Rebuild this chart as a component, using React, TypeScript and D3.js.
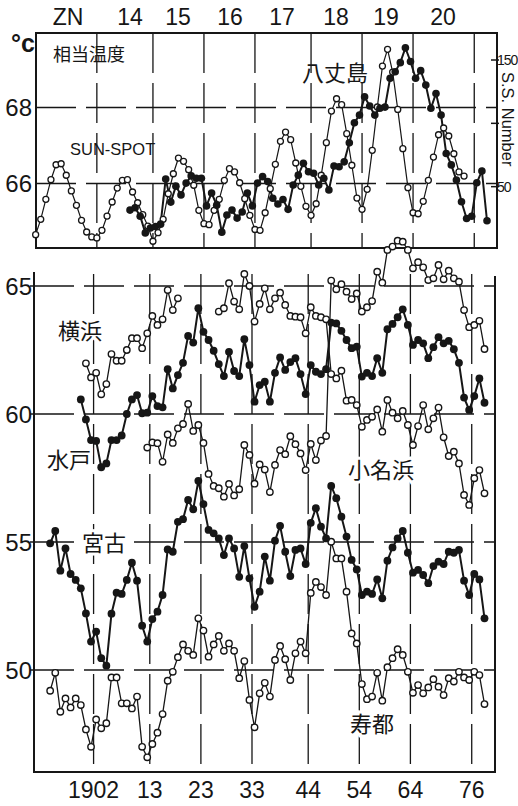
import React from "react";
import * as d3 from "d3";

// ---------- TOP PANEL DATA ----------
const SUNSPOT_START = 1890;
const SUNSPOT = [
  12.1, 24.2, 40.0, 55.5, 67.3, 68.1, 59.0, 46.6, 35.3, 23.4,
  14.2, 10.3, 9.5, 15.5, 26.8, 37.9, 48.9, 55.0, 55.5, 45.8,
  37.3, 27.9, 18.9, 6.9, 13.7, 24.2, 44.4, 60.2, 72.6, 70.0,
  63.4, 51.1, 31.3, 20.8, 20.0, 31.3, 40.0, 55.0, 64.2, 61.6,
  53.1, 40.5, 27.4, 16.2, 15.5, 29.4, 48.4, 67.6, 85.8, 93.1,
  87.1, 68.7, 50.3, 34.5, 27.4, 36.5, 59.0, 84.7, 109.7, 119.4,
  114.7, 91.8, 66.9, 41.0, 32.1, 47.9, 78.7, 112.9, 145.2, 158.4,
  140.5, 111.0, 80.0, 49.2, 29.4, 28.6, 38.4, 55.0, 73.4, 91.0,
  96.3, 90.0, 76.0, 61.6, 58.4,
];

const HACHIJO_START = 1908;
const HACHIJO = [
  65.30, 65.36, 65.14, 64.70, 64.83, 64.87, 64.93, 66.12, 65.51, 65.93,
  65.70, 66.01, 66.20, 66.14, 66.14, 65.41, 65.75, 65.43, 64.72, 65.17,
  65.30, 65.09, 65.25, 65.75, 65.41, 66.01, 66.18, 66.05, 65.61, 65.46,
  65.58, 65.32, 65.96, 66.22, 66.53, 66.31, 66.27, 65.96, 66.14, 65.83,
  66.46, 66.44, 66.57, 67.07, 67.60, 67.80, 68.28, 68.04, 67.80, 67.98,
  68.01, 68.77, 68.94, 69.18, 69.57, 69.21, 68.77, 68.97, 68.59, 67.98,
  68.37, 67.80, 66.79, 66.49, 66.09, 65.52, 65.08, 65.14, 66.02, 66.33, 65.02,
];

// sunspot-cycle minimum epochs (grid) and labels
const MIN_EPOCHS = [1901.5, 1912.5, 1922.5, 1932.5, 1943.5, 1953.5, 1963.5, 1975.5];
const MIN_LABELS = ["1902", "13", "23", "33", "44", "54", "64", "76"];
const CYCLE_YEARS = [1908, 1917.4, 1927.6, 1937.8, 1948.4, 1958.2, 1969.4];
const CYCLE_LABELS = ["14", "15", "16", "17", "18", "19", "20"];
const TOP_TICKS = [68, 66];
const SS_TICKS = [50, 100, 150];
const SS_LABELS = [150, 50];

// ---------- BOTTOM PANEL DATA ----------
const BOTTOM_TICKS = [65, 60, 55, 50];

// open circles, upper series (横浜)
const YOKOHAMA_1900 = [
  61.98, 61.43, 61.61, 60.77, 61.17, 62.34, 62.08, 62.08, 62.50, 62.96,
  62.96, 62.57, 63.15, 63.83, 63.48, 63.70, 64.84, 64.06, 64.52,
];
const YOKOHAMA_1926 = [
  64.00, 64.13, 65.11, 64.39, 64.09, 65.47, 65.00, 63.61, 64.30, 64.91,
  64.09, 64.52, 64.74, 64.26, 63.83, 63.80, 63.78, 63.15, 64.17, 63.83,
  63.78, 63.70,
];
// continuation drawn after 1948 (crossing lines)
const OPEN_MID_1948 = [
  61.56, 61.39, 61.69, 60.52, 60.55, 60.35, 59.50, 59.77, 59.89, 60.18,
  59.31, 60.55, 60.05, 59.83, 60.12, 59.57, 58.79, 59.53, 60.35, 59.40,
  59.83, 60.25, 59.09, 58.36, 58.53, 58.07, 56.84, 56.45, 57.49, 57.81, 56.90,
];
// open circles, middle series (小名浜)
const ONAHAMA_1912 = [
  58.69, 58.89, 58.86, 58.13, 59.20, 58.87, 59.44, 59.61, 60.39, 59.34,
  59.57, 58.87, 57.66, 57.19, 57.10, 56.77, 57.27, 56.82, 57.06, 58.79,
  58.40, 57.28, 58.03, 57.83, 56.95, 58.01, 58.59, 58.43, 59.13, 58.82,
  58.46, 57.81, 58.83, 58.20, 58.96, 59.14,
];
const OPEN_TOP_1948 = [
  65.21, 64.87, 65.07, 64.78, 64.49, 64.71, 64.00, 64.17, 64.41, 65.56,
  65.13, 66.41, 66.54, 66.77, 66.73, 66.41, 65.69, 65.93, 65.73, 65.23,
  65.30, 65.82, 65.26, 65.60, 65.30, 65.17, 64.06, 63.39, 63.48, 63.64, 62.54,
];
// filled, 水戸
const MITO_1899 = [
  60.57, 59.79, 58.98, 58.95, 57.92, 58.07, 58.98, 58.98, 59.16, 60.00,
  60.57, 60.74, 60.03, 60.05, 60.70, 60.31, 60.26, 61.75, 61.00, 61.52,
  62.00, 63.05, 62.79, 64.13, 63.21, 62.89, 62.47, 61.95, 61.48, 62.43,
  61.68, 61.48, 62.92, 61.91, 60.48, 61.13, 61.26, 60.48, 61.61, 62.21,
  61.72, 62.03, 62.18, 61.56, 60.78, 61.91, 61.65, 61.56, 61.75, 63.57,
  63.54, 63.25, 62.89, 62.57, 62.63, 61.46, 61.61, 61.48, 62.18, 61.61,
  63.31, 63.52, 63.78, 64.09, 63.48, 62.70, 62.89, 62.76, 62.18, 62.61,
  63.00, 62.76, 62.86, 62.53, 62.00, 60.64, 60.16, 60.70, 61.39, 60.44,
];
// filled, 宮古
const MIYAKO_1893 = [
  54.95, 55.43, 53.88, 54.75, 53.75, 53.52, 53.19, 52.21, 51.11, 51.50,
  50.46, 50.17, 52.20, 53.02, 52.97, 53.52, 54.19, 53.49, 51.73, 51.11,
  51.99, 52.28, 52.93, 54.71, 54.62, 55.79, 55.89, 56.64, 56.28, 57.39,
  56.48, 55.47, 55.34, 55.14, 54.49, 55.14, 54.75, 53.64, 54.84, 53.58,
  52.47, 53.06, 54.43, 53.49, 55.05, 55.63, 54.62, 53.67, 54.69, 54.75,
  54.14, 55.75, 56.32, 55.60, 55.14, 57.19, 56.71, 55.99, 55.21, 54.30,
  53.93, 52.93, 53.06, 52.97, 53.54, 52.80, 54.27, 54.79, 55.14, 55.43,
  54.58, 53.80, 53.91, 53.71, 53.39, 54.06, 54.23, 54.14, 54.62, 54.58,
  54.69, 53.49, 52.93, 53.75, 53.54, 52.02,
];
// open, 寿都
const SUTTSU_1893 = [
  49.19, 49.89, 48.37, 48.89, 48.54, 48.89, 48.63, 47.68, 47.00, 48.07,
  47.72, 47.92, 49.71, 49.71, 48.70, 48.70, 48.50, 48.96, 47.00, 46.59,
  47.11, 47.55, 48.28, 49.58, 49.93, 50.50, 51.00, 50.75, 50.59, 52.02,
  51.54, 50.52, 51.00, 51.33, 50.75, 51.04, 50.75, 49.68, 50.35, 48.83,
  47.76, 49.09, 49.50, 48.96, 50.39, 50.94, 50.42, 49.61, 50.65, 51.11,
  50.65, 53.01, 53.44, 53.24, 52.93, 55.01, 54.36, 54.36, 53.06, 51.43,
  51.04, 49.45, 48.86, 48.96, 49.89, 48.80, 50.11, 50.46, 50.81, 50.59,
  49.93, 49.11, 49.41, 49.09, 49.32, 49.64, 49.35, 49.02, 49.68, 49.55,
  49.93, 49.71, 49.61, 49.93, 49.80, 48.67,
];

type Pt = { year: number; v: number };
const seq = (start: number, vals: number[]): Pt[] => vals.map((v, i) => ({ year: start + i, v }));

const INK = "#161616";
const SANS = "'Liberation Sans', Arial, sans-serif";
const CJK = "'Noto Sans CJK JP', 'Noto Sans CJK SC', sans-serif";
const DASH = "40 10";

export default function App() {
  // scales
  const xT = d3.scaleLinear().domain([1890, 1978]).range([38.2, 487]);
  const yT = d3.scaleLinear().domain([66, 68]).range([183.5, 107.5]);
  const yS = d3.scaleLinear().domain([0, 150]).range([250, 60]);
  const xB = d3.scaleLinear().domain([1893, 1978]).range([50.15, 484.5]);
  const yB = d3.scaleLinear().domain([50, 65]).range([670, 286]);

  const top = { l: 36, r: 497, t: 33, b: 248 };
  const bot = { l: 34, r: 495, t: 274, b: 772 };

  const sun = seq(SUNSPOT_START, SUNSPOT);
  const hachijo = seq(HACHIJO_START, HACHIJO);

  const lineSun = d3.line<Pt>().x((d) => xT(d.year - 0.5)).y((d) => yS(d.v));
  const lineTop = d3.line<Pt>().x((d) => xT(d.year)).y((d) => yT(d.v));
  const lineB = d3.line<Pt>().x((d) => xB(d.year)).y((d) => yB(d.v));

  const openB: Pt[][] = [
    seq(1900, YOKOHAMA_1900),
    [...seq(1926, YOKOHAMA_1926), ...seq(1948, OPEN_MID_1948)],
    [...seq(1912, ONAHAMA_1912), ...seq(1948, OPEN_TOP_1948)],
    seq(1893, SUTTSU_1893),
  ];
  const filledB: Pt[][] = [seq(1899, MITO_1899), seq(1893, MIYAKO_1893)];

  const halo = { stroke: "#fff", strokeWidth: 6, paintOrder: "stroke" as const };

  return (
    <svg width={518} height={806} viewBox="0 0 518 806" style={{ display: "block", position: "absolute", left: 0, top: 0, background: "#fff" }}>
      <rect x={0} y={0} width={518} height={806} fill="#fff" />

      {/* ===== TOP PANEL ===== */}
      <g>
        {MIN_EPOCHS.map((e, i) => (
          <line key={"tv" + i} x1={xT(e)} x2={xT(e)} y1={top.t} y2={top.b} stroke={INK} strokeWidth={1.3} strokeDasharray={DASH} />
        ))}
        {TOP_TICKS.map((t) => (
          <line key={"th" + t} x1={top.l} x2={top.r} y1={yT(t)} y2={yT(t)} stroke={INK} strokeWidth={1.3} strokeDasharray={DASH} />
        ))}
        <rect x={top.l} y={top.t} width={top.r - top.l} height={top.b - top.t} fill="none" stroke={INK} strokeWidth={2} />
        {SS_TICKS.map((t) => (
          <line key={"ss" + t} x1={top.r - 6} x2={top.r + 2} y1={yS(t)} y2={yS(t)} stroke={INK} strokeWidth={1.5} />
        ))}
        {SS_LABELS.map((t) => (
          <text key={"sl" + t} x={top.r} y={yS(t)} dy="0.36em" fontFamily={SANS} fontSize={14} letterSpacing={-1} fill={INK}>{t}</text>
        ))}
        <text transform={`translate(502,72) rotate(90)`} fontFamily={SANS} fontSize={16.5} fill={INK}>S.S. Number</text>

        {TOP_TICKS.map((t) => (
          <text key={"tl" + t} x={32} y={yT(t)} dy="0.36em" textAnchor="end" fontFamily={SANS} fontSize={24} fill={INK}>{t}</text>
        ))}
        <text x={11} y={52} fontFamily={SANS} fontSize={25} fontWeight={700} fill={INK}>°c</text>
        <text x={68} y={25} textAnchor="middle" fontFamily={SANS} fontSize={23} fill={INK}>ZN</text>
        {CYCLE_YEARS.map((y, i) => (
          <text key={"cy" + i} x={xT(y)} y={25} textAnchor="middle" fontFamily={SANS} fontSize={23} fill={INK}>{CYCLE_LABELS[i]}</text>
        ))}
        <text x={53} y={61} fontFamily={CJK} fontSize={18} fill={INK}>相当温度</text>
        <text x={302} y={81} fontFamily={CJK} fontSize={22} fill={INK}>八丈島</text>
        <text x={70} y={155} fontFamily={SANS} fontSize={16.5} fill={INK}>SUN-SPOT</text>

        <path d={lineSun(sun) || ""} fill="none" stroke={INK} strokeWidth={1.2} />
        <path d={lineTop(hachijo) || ""} fill="none" stroke={INK} strokeWidth={2} />
        {sun.map((d, i) => (
          <circle key={"sc" + i} cx={xT(d.year - 0.5)} cy={yS(d.v)} r={3} fill="#fff" stroke={INK} strokeWidth={1.3} />
        ))}
        {hachijo.map((d, i) => (
          <circle key={"hc" + i} cx={xT(d.year)} cy={yT(d.v)} r={3.8} fill={INK} />
        ))}
      </g>

      {/* ===== BOTTOM PANEL ===== */}
      <g>
        {MIN_EPOCHS.map((e, i) => (
          <line key={"bv" + i} x1={xB(e)} x2={xB(e)} y1={bot.t} y2={bot.b} stroke={INK} strokeWidth={1.3} strokeDasharray={DASH} />
        ))}
        {BOTTOM_TICKS.map((t) => (
          <line key={"bh" + t} x1={bot.l} x2={bot.r} y1={yB(t)} y2={yB(t)} stroke={INK} strokeWidth={1.3} strokeDasharray={DASH} />
        ))}
        <path d={`M${bot.l},${bot.t - 2}V${bot.b}H${bot.r}V${bot.t + 2}`} fill="none" stroke={INK} strokeWidth={2} />
        {BOTTOM_TICKS.map((t) => (
          <g key={"bl" + t}>
            <line x1={bot.l - 4} x2={bot.l} y1={yB(t)} y2={yB(t)} stroke={INK} strokeWidth={1.5} />
            <text x={32} y={yB(t)} dy="0.36em" textAnchor="end" fontFamily={SANS} fontSize={24} fill={INK}>{t}</text>
          </g>
        ))}
        {MIN_EPOCHS.map((e, i) => (
          <text key={"xl" + i} x={xB(e)} y={798} textAnchor="middle" fontFamily={SANS} fontSize={23} fill={INK}>{MIN_LABELS[i]}</text>
        ))}

        <text x={58} y={339} fontFamily={CJK} fontSize={22} fill={INK} {...halo}>横浜</text>
        <text x={47} y={468} fontFamily={CJK} fontSize={22} fill={INK} {...halo}>水戸</text>
        <text x={82} y={551} fontFamily={CJK} fontSize={22} fill={INK} {...halo}>宮古</text>
        <text x={348} y={478} fontFamily={CJK} fontSize={22} fill={INK} {...halo}>小名浜</text>
        <text x={350} y={732} fontFamily={CJK} fontSize={22} fill={INK} {...halo}>寿都</text>

        {openB.map((s, i) => (
          <path key={"ol" + i} d={lineB(s) || ""} fill="none" stroke={INK} strokeWidth={1.3} />
        ))}
        {filledB.map((s, i) => (
          <path key={"fl" + i} d={lineB(s) || ""} fill="none" stroke={INK} strokeWidth={2} />
        ))}
        {openB.map((s, i) =>
          s.map((d, j) => (
            <circle key={"oc" + i + "-" + j} cx={xB(d.year)} cy={yB(d.v)} r={3.2} fill="#fff" stroke={INK} strokeWidth={1.4} />
          ))
        )}
        {filledB.map((s, i) =>
          s.map((d, j) => (
            <circle key={"fc" + i + "-" + j} cx={xB(d.year)} cy={yB(d.v)} r={3.9} fill={INK} />
          ))
        )}
      </g>
    </svg>
  );
}
